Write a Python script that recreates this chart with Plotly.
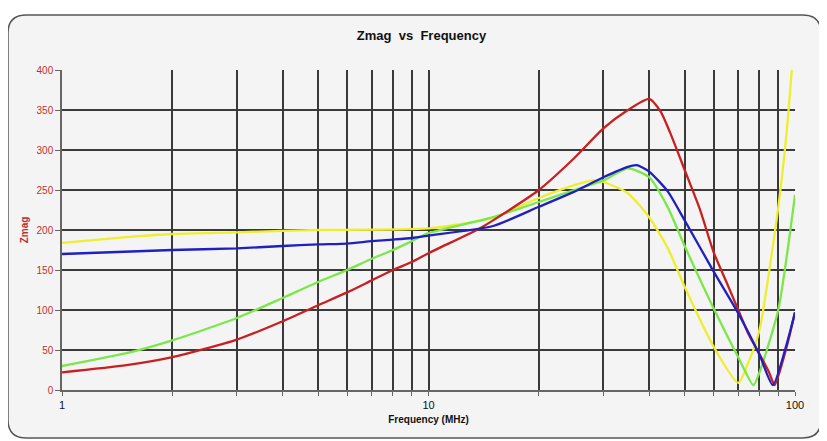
import plotly.graph_objects as go

# Data (frequency in MHz, Zmag in ohms)
red_f = [1, 1.5, 2, 3, 4, 5, 6, 7, 8, 9, 10, 13.8, 15, 20, 25, 30, 35, 40, 43, 45.6, 50, 55, 60, 65, 70, 75, 80, 85, 88, 95, 100]
red_z = [22, 31, 41, 63, 86, 106, 122, 137, 150, 160, 171, 202, 212, 250, 290, 327, 350, 364, 348, 322, 275, 226, 172, 135, 100, 68, 45, 22, 6, 55, 97]

blue_f = [1, 2, 3, 4, 5, 6, 7, 8, 9, 10, 15, 20, 25, 30, 35, 37, 40, 45, 50, 60, 70, 80, 87, 95, 100]
blue_z = [170, 175, 177, 180, 182, 183, 186, 188, 190, 193, 205, 229, 248, 266, 279, 281, 273, 248, 212, 148, 96, 44, 6, 58, 97]

green_f = [1, 1.5, 2, 3, 4, 5, 6, 7, 8, 9, 10, 15, 20, 25, 30, 35, 40, 45, 50, 60, 70, 77, 80, 90, 100]
green_z = [30, 46, 62, 90, 115, 135, 150, 164, 175, 186, 196, 216, 235, 250, 262, 277, 266, 228, 180, 102, 41, 6, 22, 100, 244]

yellow_f = [1, 1.5, 2, 3, 4, 5, 10, 15, 20, 25, 28, 30, 35, 40, 45, 50, 60, 70, 75, 80, 90, 95, 98]
yellow_z = [184, 191, 195, 197, 199, 200, 202, 215, 240, 256, 262, 260, 246, 216, 177, 129, 54, 9, 37, 75, 228, 325, 400]

x_grid = [1, 2, 3, 4, 5, 6, 7, 8, 9, 10, 20, 30, 40, 50, 60, 70, 80, 90, 100]
x_labels = ["1", "", "", "", "", "", "", "", "", "10", "", "", "", "", "", "", "", "", "100"]
y_ticks = [0, 50, 100, 150, 200, 250, 300, 350, 400]

fig = go.Figure()
series = [
    (yellow_f, yellow_z, "#eeee30"),
    (green_f, green_z, "#7ae84a"),
    (red_f, red_z, "#c82020"),
    (blue_f, blue_z, "#2020c0"),
]
for f, z, c in series:
    fig.add_trace(go.Scatter(x=f, y=z, mode="lines",
                             line=dict(color=c, width=2.3, shape="spline", smoothing=0.6),
                             showlegend=False))

# Outer rounded frame (paper coords relative to plot area)
x0, x1, y0, y1, r = -0.0737, 1.0355, -0.15, 1.172, 0.025
ry = r * 733 / 320
path = (f"M {x0+r} {y1} L {x1-r} {y1} Q {x1} {y1} {x1} {y1-ry} "
        f"L {x1} {y0+ry} Q {x1} {y0} {x1-r} {y0} L {x0+r} {y0} "
        f"Q {x0} {y0} {x0} {y0+ry} L {x0} {y1-ry} Q {x0} {y1} {x0+r} {y1} Z")
fig.add_shape(type="path", path=path, xref="paper", yref="paper",
              line=dict(color="#555555", width=1.5), fillcolor="#f4f4f4", layer="below")

# page body has an 8px margin, so offsets compensate
fig.update_layout(
    width=827, height=441,
    margin=dict(l=54, r=40, t=62, b=59, autoexpand=False),
    paper_bgcolor="white",
    plot_bgcolor="#f4f4f4",
    font=dict(family="Liberation Sans, Arial, sans-serif", size=11, color="black"),
    title=dict(text="<b>Zmag  vs  Frequency</b>", x=0.5, xanchor="center",
               y=1 - 27 / 441, yanchor="middle", font=dict(size=13, color="#111111")),
)
fig.update_xaxes(
    type="log", range=[0, 2],
    tickvals=x_grid, ticktext=x_labels,
    showgrid=True, gridcolor="#3a3a3a", gridwidth=1.5,
    showline=True, linecolor="#666666", linewidth=1.5,
    ticks="outside", ticklen=4, tickcolor="#666666",
    tickfont=dict(size=11, color="#111111"),
    title=dict(text="<b>Frequency (MHz)</b>", font=dict(size=10, color="#111111"), standoff=6),
    zeroline=False, automargin=False,
)
fig.update_yaxes(
    range=[0, 400], tickvals=y_ticks,
    showgrid=True, gridcolor="#3a3a3a", gridwidth=1.5,
    showline=True, linecolor="#666666", linewidth=1.5,
    ticks="outside", ticklen=5, tickcolor="#666666",
    tickfont=dict(size=10, color="#c03030"),
    title=dict(text="<b>Zmag</b>", font=dict(size=10, color="#c03030"), standoff=6),
    zeroline=False, automargin=False,
)

fig.write_html("out.html")
